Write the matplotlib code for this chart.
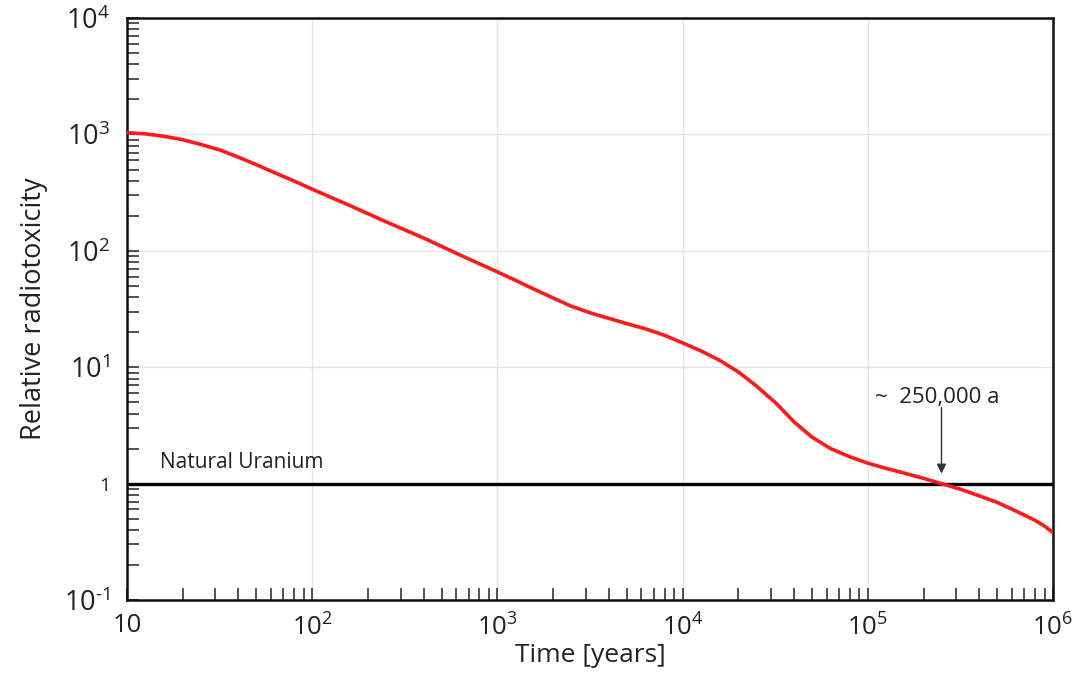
import matplotlib
matplotlib.use('Agg')
import matplotlib.pyplot as plt
from matplotlib.ticker import FixedLocator, LogLocator, NullFormatter

plt.rcParams['font.family'] = ['Open Sans', 'DejaVu Sans']
plt.rcParams['mathtext.fontset'] = 'custom'
plt.rcParams['mathtext.rm'] = 'Open Sans'

# Daten
time_years = [10, 12.6, 15.8, 20, 25, 32, 40, 50, 63, 80,
              100, 160, 250, 400, 630,
              1000, 1260, 1580, 2000, 2500, 3200, 4000, 5000, 6300, 8000,
              1e4, 12600, 15800, 20000, 25000, 32000, 40000, 50000, 63000, 80000,
              1e5, 126000, 158000, 200000, 250000, 320000, 400000, 500000, 630000, 800000,
              890000, 1e6]
radiotox = [1035, 1012, 966, 902, 822, 733, 638, 550, 468, 398,
            339, 245, 178, 129, 92,
            66, 55.6, 46.8, 39.4, 33.5, 29.2, 26.3, 23.7, 21.4, 18.8,
            16.2, 13.8, 11.5, 9.12, 6.92, 4.90, 3.39, 2.51, 2.0, 1.70,
            1.50, 1.35, 1.23, 1.11, 1.0, 0.89, 0.785, 0.69, 0.582, 0.484,
            0.437, 0.38]
uranium_level = 1.0
crossing_time = 2.5e5

x_ticks = [10, 1e2, 1e3, 1e4, 1e5, 1e6]
x_labels = ['10', r'$10^{2}$', r'$10^{3}$', r'$10^{4}$', r'$10^{5}$', r'$10^{6}$']
y_ticks = [0.1, 1, 10, 100, 1000, 10000]
y_labels = [r'$10^{\text{-}1}$', '1', r'$10^{1}$', r'$10^{2}$', r'$10^{3}$', r'$10^{4}$']

fig = plt.figure(figsize=(10.85, 6.83), dpi=100)
ax = fig.add_axes([0.117, 0.1215, 0.8535, 0.852])

ax.plot(time_years, radiotox, color='#ff1a1a', lw=2.6, zorder=3,
        solid_joinstyle='round')
ax.axhline(uranium_level, color='black', lw=2.4, zorder=2)

ax.set_xscale('log')
ax.set_yscale('log')
ax.set_xlim(10, 1e6)
ax.set_ylim(0.1, 1e4)

ax.xaxis.set_major_locator(FixedLocator(x_ticks))
ax.yaxis.set_major_locator(FixedLocator(y_ticks))
ax.set_xticklabels(x_labels)
ax.set_yticklabels(y_labels)
ax.xaxis.set_minor_locator(LogLocator(base=10, subs=range(2, 10)))
ax.yaxis.set_minor_locator(LogLocator(base=10, subs=range(2, 10)))
ax.xaxis.set_minor_formatter(NullFormatter())
ax.yaxis.set_minor_formatter(NullFormatter())

ax.tick_params(which='both', direction='in', length=8.5, width=1.1, color='#222222')
ax.tick_params(axis='x', which='major', labelsize=18.5, pad=9, labelcolor='#222222')
ax.tick_params(axis='y', which='major', labelsize=19.5, pad=12, labelcolor='#222222')
for lbl in ax.get_yticklabels():
    if lbl.get_text() == '1':
        lbl.set_fontsize(14)

ax.grid(True, which='major', color='#dfe6ea', lw=1.0, zorder=0)
for s in ax.spines.values():
    s.set_linewidth(1.8)
    s.set_color('#111111')

ax.set_xlabel('Time [years]', fontsize=19, labelpad=2, color='#222222')
ax.set_ylabel('Relative radiotoxicity', fontsize=19.5, labelpad=12, color='#222222')

ax.text(15, 1.53, 'Natural Uranium', fontsize=15, va='center', ha='left', color='#222222')
ax.text(1.09e5, 5.5, '~  250,000 a', fontsize=16, va='center', ha='left', color='#222222')
ax.annotate('', xy=(crossing_time, 1.22), xytext=(crossing_time, 4.5),
            arrowprops=dict(arrowstyle='-|>', color='#333333', lw=1.0,
                            mutation_scale=14, shrinkA=0, shrinkB=0))

fig.savefig('out.png', dpi=100)
